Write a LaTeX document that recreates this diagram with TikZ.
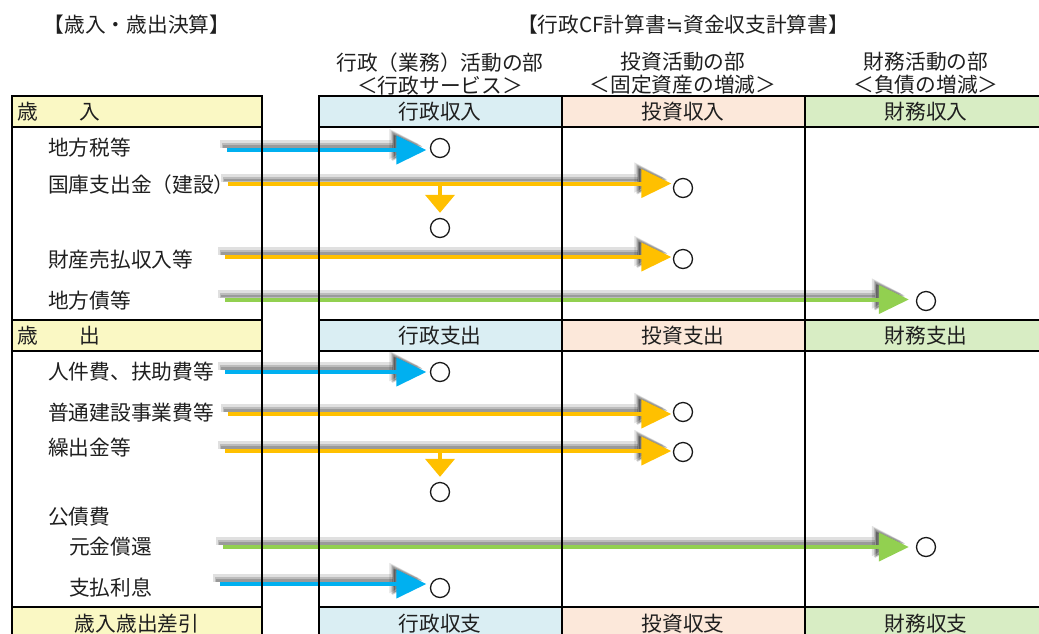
\documentclass[tikz,border=0pt]{standalone}
\usepackage{fontspec}
\setmainfont{Noto Sans CJK JP}
\newfontfamily\symfont{DejaVu Sans}
\usepackage{tikz}
\usetikzlibrary{arrows.meta}
\definecolor{hdY}{HTML}{FAF8C4}
\definecolor{hdB}{HTML}{DAEEF3}
\definecolor{hdP}{HTML}{FCE8DA}
\definecolor{hdG}{HTML}{D8EDC4}
\definecolor{arB}{HTML}{00B0F0}
\definecolor{arY}{HTML}{FFC000}
\definecolor{arG}{HTML}{92D050}
\tikzset{
tb/.style={line width=2pt},
lbl/.style={anchor=west,inner sep=0pt,text=black!88},
hd/.style={inner sep=0pt,text=black!88},
pt/.style={circle,draw=black!90,line width=1.3pt,minimum size=19pt,inner sep=0pt},
shd/.style={preaction={draw=black,opacity=.12,line width=8pt,transform canvas={shift={(-7pt,6pt)}}},
  preaction={draw=black,opacity=.16,line width=5pt,transform canvas={shift={(-5pt,4.5pt)}}},
  preaction={draw=black,opacity=.18,line width=2.5pt,transform canvas={shift={(-4pt,3.5pt)}}}},
flowB/.style={shd,draw=arB,line width=4pt,-{Triangle[length=30pt,width=28pt]},shorten >=3.5pt},
flowY/.style={shd,draw=arY,line width=4pt,-{Triangle[length=30pt,width=28pt]},shorten >=1.5pt},
flowG/.style={shd,draw=arG,line width=4pt,-{Triangle[length=30pt,width=28pt]},shorten >=7pt},
dropY/.style={draw=arY,line width=4pt,-{Triangle[length=18pt,width=29pt]},shorten >=5pt}
}
\begin{document}
\begin{tikzpicture}[x=1pt,y=-1pt,font=\fontsize{20.7}{23}\selectfont]
\useasboundingbox (0,0) rectangle (1039,633);
\clip (0,0) rectangle (1039,633);
\foreach \t/\b in {96/127,320/351,607/645} {\fill[hdY] (12,\t) rectangle (262,\b); \fill[hdB] (319,\t) rectangle (562,\b); \fill[hdP] (562,\t) rectangle (805,\b); \fill[hdG] (805,\t) rectangle (1045,\b);}

\node[hd] (tl) at (137,25) {【歳入・歳出決算】}; \node[hd] (tr) at (683,25) {【行政CF計算書{\symfont ≒}資金収支計算書】};
\node[hd,align=center] (ha) at (440,73.5) {行政（業務）活動の部\\＜行政サービス＞}; \node[hd,align=center] (hb) at (683,73.5) {投資活動の部\\＜固定資産の増減＞}; \node[hd,align=center] (hc) at (926,73.5) {財務活動の部\\＜負債の増減＞};

\node[lbl] (r1) at (17,112) {歳　　入}; \node[hd] (a1) at (440,112) {行政収入}; \node[hd] (b1) at (683,112) {投資収入}; \node[hd] (c1) at (926,112) {財務収入};
\node[lbl] (r2) at (17,336) {歳　　出}; \node[hd] (a2) at (440,336) {行政支出}; \node[hd] (b2) at (683,336) {投資支出}; \node[hd] (c2) at (926,336) {財務支出};
\node[hd] (r3) at (137,623.5) {歳入歳出差引}; \node[hd] (a3) at (440,623.5) {行政収支}; \node[hd] (b3) at (683,623.5) {投資収支}; \node[hd] (c3) at (926,623.5) {財務収支};

\node[lbl] (p1) at (48,148) {地方税等}; \node[lbl] (p2) at (48,184.5) {国庫支出金（建設）}; \node[lbl] (p3) at (48,260) {財産売払収入等}; \node[lbl] (p4) at (48,301) {地方債等};
\node[lbl] (p5) at (48,372) {人件費、扶助費等}; \node[lbl] (p6) at (48,413) {普通建設事業費等}; \node[lbl] (p7) at (48,448) {繰出金等}; \node[lbl] (p8) at (48,517) {公債費};
\node[lbl] (p9) at (69,547) {元金償還}; \node[lbl] (p10) at (69,588) {支払利息};

\node[pt] (q1) at (440,148) {}; \node[pt] (q2) at (683,188) {}; \node[pt] (q2d) at (440,228) {}; \node[pt] (q3) at (683,259) {}; \node[pt] (q4) at (926,301) {};
\node[pt] (q5) at (440,372) {}; \node[pt] (q6) at (683,412) {}; \node[pt] (q7) at (683,452) {}; \node[pt] (q7d) at (440,492) {}; \node[pt] (q9) at (926,547) {}; \node[pt] (q10) at (440,588) {};

\coordinate (s1) at (227,150); \coordinate (s2) at (228,183.5); \coordinate (s3) at (225,257); \coordinate (s4) at (225,299.5);
\coordinate (s5) at (225,372); \coordinate (s6) at (228,414); \coordinate (s7) at (225,451); \coordinate (s9) at (223,547); \coordinate (s10) at (220,584);
\coordinate (d2) at (440,183.5); \coordinate (d7) at (440,451);

\draw[dropY] (d2) -- (q2d.north); \draw[dropY] (d7) -- (q7d.north);
\draw[flowB] (s1) -- (s1 -| q1.west); \draw[flowY] (s2) -- (s2 -| q2.west); \draw[flowY] (s3) -- (s3 -| q3.west); \draw[flowG] (s4) -- (s4 -| q4.west);
\draw[flowB] (s5) -- (s5 -| q5.west); \draw[flowY] (s6) -- (s6 -| q6.west); \draw[flowY] (s7) -- (s7 -| q7.west); \draw[flowG] (s9) -- (s9 -| q9.west); \draw[flowB] (s10) -- (s10 -| q10.west);

\foreach \y in {96,127,320,351,607} {\draw[tb] (11,\y) -- (263,\y); \draw[tb] (318,\y) -- (1045,\y);}
\foreach \x in {12,262,319,562,805} \draw[tb] (\x,96) -- (\x,645);
\end{tikzpicture}
\end{document}
